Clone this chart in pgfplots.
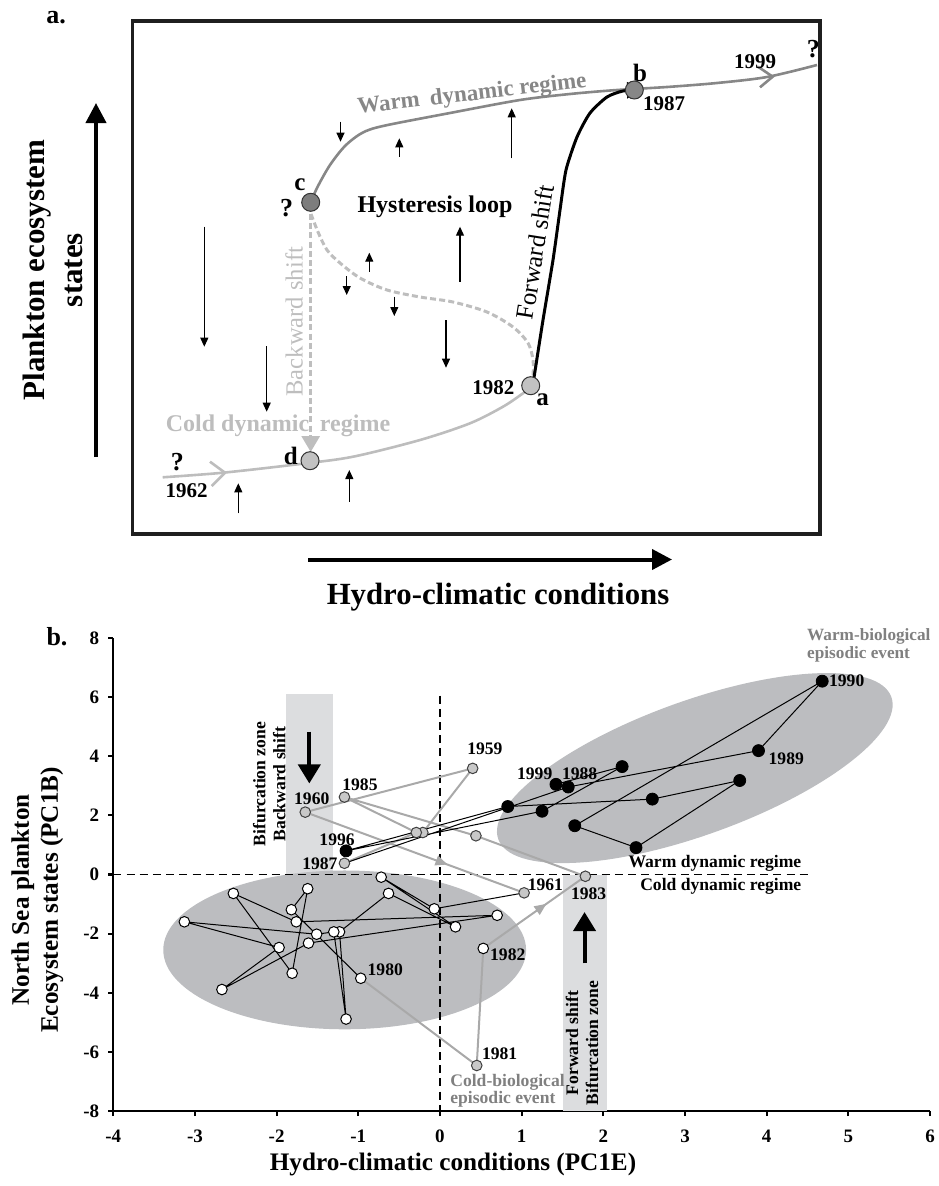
\documentclass[border=0pt]{standalone}
\usepackage{fontspec}
\setmainfont{Liberation Serif}
\usepackage{pgfplots}
\pgfplotsset{compat=1.18}
\usetikzlibrary{arrows.meta,decorations.markings}

\definecolor{warmc}{HTML}{878787}
\definecolor{coldc}{HTML}{BDBDBD}
\definecolor{dashc}{HTML}{BEBEBE}
\definecolor{cdot}{HTML}{7D7D7D}
\definecolor{adot}{HTML}{C2C2C2}
\definecolor{ell}{HTML}{BCBDC0}
\definecolor{zone}{HTML}{DCDDDF}
\definecolor{gline}{HTML}{A9A9A9}
\definecolor{gmark}{HTML}{C8C8C8}
\definecolor{labgray}{HTML}{808080}

\newcommand\fs[1]{\fontsize{#1}{#1}\selectfont}
\tikzset{
  sarr/.style={line width=0.55pt, -{Triangle[length=4.5pt,width=4pt]}},
  yr/.style={font=\bfseries\fs{8.8}},
}

\begin{document}
\begin{tikzpicture}
\useasboundingbox (0,0) rectangle (469pt,-593pt);

% ---------------- panel a (coordinates in reference pixels) ----------------
\begin{axis}[
  at={(66.25pt,-10.5pt)}, anchor=north west,
  scale only axis, width=343.75pt, height=256.5pt,
  xmin=132.5, xmax=820, ymin=21, ymax=534, y dir=reverse,
  ticks=none, clip=false,
  axis line style={line width=1.65pt, black!88},
]
% warm dynamic regime
\addplot[warmc, line width=1.3pt, smooth, tension=0.5] coordinates {
  (310.7,202) (318,186) (330,165) (345,146) (362,133) (383,126)
  (450,113) (520,100) (570,94) (617,90) (667,87) (717,83) (767,77) (817,65)};
\draw[warmc, line width=1.3pt] (axis cs:758,66.7) -- (axis cs:772.7,76.7) -- (axis cs:760,87.3);
% cold dynamic regime
\addplot[coldc, line width=1.3pt, smooth] coordinates {
  (162.7,477.3) (223,472.7) (300,464) (353,456.7) (420,440) (470,423.3)
  (503,406.7) (523,393.3) (532.7,386)};
\draw[coldc, line width=1.3pt] (axis cs:210,461.7) -- (axis cs:225,472.7) -- (axis cs:211.7,486);
% hysteresis dashed branch
\addplot[dashc, line width=1.5pt, dash pattern=on 3pt off 1.6pt, smooth] coordinates {
  (311,214) (318,232) (327,250) (340,263) (360,278) (387,290) (420,297)
  (453,302) (487,312) (513,327) (528,343) (533,360) (533,377)};
\addplot[dashc, line width=1.5pt, dash pattern=on 3pt off 1.6pt,
  -{Triangle[length=8pt,width=9pt]}] coordinates {(310.7,214) (310.7,452)};
% state points
\addplot[only marks, mark=*, mark size=4.5pt,
  mark options={fill=adot, draw=black!80, line width=0.5pt}]
  coordinates {(530.7,385.7) (310,460.7)};
\addplot[only marks, mark=*, mark size=4.5pt,
  mark options={fill=cdot, draw=black!80, line width=0.5pt}]
  coordinates {(310.7,202.3)};
\addplot[only marks, mark=*, mark size=4.5pt,
  mark options={fill=warmc, draw=black!80, line width=0.5pt}]
  coordinates {(634.3,90)};
% forward shift
\addplot[black, line width=1.5pt, smooth, tension=0.4,
  -{Triangle[length=7pt,width=8pt]}] coordinates {
  (532.7,386) (543,320) (553,260) (560,210) (566,170) (577,137)
  (590,113) (607,97) (623,91) (641,90)};
% small arrows
\draw[sarr] (axis cs:340.5,121.7) -- (axis cs:340.5,141.7);
\draw[sarr] (axis cs:399.3,156.7) -- (axis cs:399.3,138.3);
\draw[sarr] (axis cs:511.7,158.3) -- (axis cs:511.7,108.3);
\draw[sarr] (axis cs:204.3,226.7) -- (axis cs:204.3,346.7);
\draw[sarr] (axis cs:369.3,271.7) -- (axis cs:369.3,252.7);
\draw[sarr] (axis cs:460,281.7) -- (axis cs:460,226.7);
\draw[sarr] (axis cs:346.7,276) -- (axis cs:346.7,295);
\draw[sarr] (axis cs:394.3,296.7) -- (axis cs:394.3,316);
\draw[sarr] (axis cs:446,320) -- (axis cs:446,367.7);
\draw[sarr] (axis cs:266.7,346) -- (axis cs:266.7,411.7);
\draw[sarr] (axis cs:238.3,513.3) -- (axis cs:238.3,483.3);
\draw[sarr] (axis cs:349.3,501.7) -- (axis cs:349.3,470);
% labels
\node[font=\bfseries\fs{12.5}] at (axis cs:300,185) {c};
\node[font=\bfseries\fs{13}] at (axis cs:286.7,208.3) {?};
\node[font=\bfseries\fs{12}] at (axis cs:435,206.7) {Hysteresis loop};
\node[font=\bfseries\fs{11.5}, text=warmc, rotate=6.7] at (axis cs:472,95) {Warm\hspace{0.45em}dynamic regime};
\node[font=\bfseries\fs{12.5}] at (axis cs:640,73.3) {b};
\node[font=\bfseries\fs{10.5}] at (axis cs:664,104) {1987};
\node[font=\bfseries\fs{10.5}] at (axis cs:755,61.7) {1999};
\node[font=\bfseries\fs{13}] at (axis cs:813.3,49.3) {?};
\node[font=\fs{12.5}, rotate=81, inner sep=0pt] at (axis cs:535,252) {Forward shift};
\node[font=\fs{12.3}, text=dashc, rotate=90] at (axis cs:294,321.7) {Backward shift};
\node[font=\bfseries\fs{10.5}] at (axis cs:493.3,387.3) {1982};
\node[font=\bfseries\fs{12.5}] at (axis cs:542.7,399.3) {a};
\node[font=\bfseries\fs{12.5}] at (axis cs:290.7,456) {d};
\node[font=\bfseries\fs{13}] at (axis cs:177.3,461.7) {?};
\node[font=\bfseries\fs{10.5}] at (axis cs:186.7,490.7) {1962};
\node[font=\bfseries\fs{12}, text=coldc] at (axis cs:278,426) {Cold dynamic\hspace{0.45em}regime};
% outer arrows
\draw[line width=2pt, -{Triangle[length=10pt,width=10pt]}] (axis cs:96,457) -- (axis cs:96,103);
\draw[line width=2pt, -{Triangle[length=10pt,width=10pt]}] (axis cs:308,559.5) -- (axis cs:672,559.5);
\end{axis}
% panel a titles (canvas coordinates, 1 px = 0.5 pt)
\node[font=\bfseries\fontsize{15.5}{19}\selectfont, rotate=90, align=center] at (26.5pt,-135pt)
  {Plankton ecosystem\\states};
\node[font=\bfseries\fs{15.4}, anchor=base] at (249pt,-302pt) {Hydro-climatic conditions};
\node[font=\bfseries\fs{13}] at (28pt,-9pt) {a.};

% ---------------- panel b ----------------
\begin{axis}[
  at={(56.65pt,-555.5pt)}, anchor=south west,
  scale only axis, width=408.35pt, height=236.5pt,
  xmin=-4, xmax=6, ymin=-8, ymax=8,
  axis lines=left, axis line style={-, line width=1.1pt},
  xtick={-4,...,6}, ytick={-8,-6,...,8},
  xticklabels={-4,-3,-2,-1,0,1,2,3,4,5,6},
  yticklabels={-8,-6,-4,-2,0,2,4,6,8},
  tick align=outside, major tick length=2.5pt,
  tick style={line width=1.1pt, black},
  ticklabel style={font=\bfseries\fs{9.5}},
  xticklabel style={yshift=-3.5pt},
  yticklabel style={xshift=-1pt},
  clip=false,
]
% bifurcation zones
\fill[zone] (axis cs:-1.886,0) rectangle (axis cs:-1.31,6.10);
\fill[zone] (axis cs:1.51,-8) rectangle (axis cs:2.04,0);
% regime ellipses
\fill[ell] (axis cs:-1.167,-2.55) ellipse [x radius=90.7pt, y radius=39.7pt];
\fill[ell, rotate around={19.9:(axis cs:3.12,3.60)}] (axis cs:3.12,3.60) ellipse [x radius=104.5pt, y radius=33.5pt];
% zero lines
\draw[black, line width=0.8pt, dash pattern=on 4pt off 2.6pt] (axis cs:-4,0) -- (axis cs:4.51,0);
\draw[black, line width=0.8pt, dash pattern=on 4pt off 2.6pt] (axis cs:0,6.05) -- (axis cs:0,-8);
% shift arrows
\draw[line width=2pt, -{Triangle[length=9.5pt,width=11pt]}] (axis cs:-1.60,4.83) -- (axis cs:-1.60,3.08);
\draw[line width=2pt, -{Triangle[length=9.5pt,width=11pt]}] (axis cs:1.77,-3.01) -- (axis cs:1.77,-1.27);

% trajectory: grey transitional years
\addplot[gline, line width=1pt] coordinates {(-0.21,1.42) (0.40,3.59) (-1.65,2.11)};
\addplot[gline, line width=1pt, postaction={decorate},
  decoration={markings, mark=at position 0.65 with {\arrow{Triangle[length=6pt,width=5pt]}}}]
  coordinates {(-1.65,2.11) (1.03,-0.62)};
\addplot[gline, line width=1pt] coordinates {(-0.97,-3.51) (0.45,-6.46) (0.53,-2.50)};
\addplot[gline, line width=1pt, postaction={decorate},
  decoration={markings, mark=at position 0.62 with {\arrow{Triangle[length=6pt,width=5pt]}}}]
  coordinates {(0.53,-2.50) (1.78,-0.06)};
\addplot[gline, line width=1pt] coordinates {(1.78,-0.06) (0.44,1.31) (-1.17,2.62) (-0.29,1.42) (-1.17,0.38)};
% cold regime years 1962-1980
\addplot[black, line width=0.5pt] coordinates {
  (1.03,-0.62) (-0.07,-1.16) (-0.72,-0.09) (0.19,-1.77) (-0.63,-0.64) (-1.23,-1.94)
  (-1.15,-4.89) (-1.30,-1.94) (-1.51,-2.02) (-3.13,-1.60) (-1.97,-2.47) (-2.67,-3.89)
  (-1.61,-2.32) (0.70,-1.38) (-1.76,-1.60) (-2.53,-0.64) (-1.81,-3.34) (-1.62,-0.48)
  (-1.82,-1.19) (-0.97,-3.51)};
% warm regime years 1988-1999
\addplot[black, line width=0.5pt] coordinates {
  (-1.17,0.38) (1.57,2.96) (3.90,4.19) (4.68,6.54) (1.65,1.65) (2.40,0.91) (3.67,3.18)
  (2.60,2.55) (0.83,2.30) (-1.15,0.80) (1.25,2.14) (2.23,3.65) (1.42,3.05)};
% markers
\addplot[only marks, mark=*, mark size=2.65pt,
  mark options={fill=white, draw=black, line width=0.5pt}] coordinates {
  (-0.07,-1.16) (-0.72,-0.09) (0.19,-1.77) (-0.63,-0.64) (-1.23,-1.94)
  (-1.15,-4.89) (-1.30,-1.94) (-1.51,-2.02) (-3.13,-1.60) (-1.97,-2.47) (-2.67,-3.89)
  (-1.61,-2.32) (0.70,-1.38) (-1.76,-1.60) (-2.53,-0.64) (-1.81,-3.34) (-1.62,-0.48)
  (-1.82,-1.19) (-0.97,-3.51) (0.53,-2.50)};
\addplot[only marks, mark=*, mark size=2.65pt,
  mark options={fill=gmark, draw=black!75, line width=0.5pt}] coordinates {
  (-0.21,1.42) (-0.29,1.42) (0.40,3.59) (-1.65,2.11) (1.03,-0.62) (0.45,-6.46)
  (1.78,-0.06) (0.44,1.31) (-1.17,2.62) (-1.17,0.38)};
\addplot[only marks, mark=*, mark size=3pt,
  mark options={fill=black, draw=black}] coordinates {
  (0.83,2.30) (1.25,2.14) (1.42,3.05) (1.57,2.96) (2.23,3.65) (3.67,3.18)
  (2.60,2.55) (1.65,1.65) (2.40,0.91) (3.90,4.19) (4.68,6.54) (-1.15,0.80)};

% year labels
\node[yr] at (axis cs:0.55,4.27) {1959};
\node[yr] at (axis cs:-1.57,2.55) {1960};
\node[yr] at (axis cs:-0.98,3.05) {1985};
\node[yr] at (axis cs:-1.26,1.19) {1996};
\node[yr] at (axis cs:-1.47,0.35) {1987};
\node[yr] at (axis cs:1.16,3.42) {1999};
\node[yr] at (axis cs:1.71,3.42) {1988};
\node[yr] at (axis cs:4.24,3.90) {1989};
\node[yr] at (axis cs:4.98,6.56) {1990};
\node[yr] at (axis cs:1.29,-0.36) {1961};
\node[yr] at (axis cs:1.82,-0.64) {1983};
\node[yr] at (axis cs:0.83,-2.72) {1982};
\node[yr] at (axis cs:0.73,-6.05) {1981};
\node[yr] at (axis cs:-0.67,-3.21) {1980};
% annotations
\node[yr, anchor=east] at (axis cs:4.51,0.39) {Warm dynamic regime};
\node[yr, anchor=east] at (axis cs:4.51,-0.39) {Cold dynamic regime};
\node[font=\bfseries\fontsize{8.6}{9}\selectfont, text=labgray, align=left, anchor=west]
  at (axis cs:4.41,7.76) {Warm-biological\\episodic event};
\node[font=\bfseries\fontsize{8.8}{8.5}\selectfont, text=labgray, align=left, anchor=west]
  at (axis cs:0.04,-7.32) {Cold-biological\\episodic event};
\node[font=\bfseries\fontsize{8.8}{10}\selectfont, rotate=90, align=center]
  at (axis cs:-2.09,3.06) {Bifurcation zone\\Backward shift};
\node[font=\bfseries\fontsize{8.8}{10}\selectfont, rotate=90, align=center]
  at (axis cs:1.74,-5.70) {Forward shift\\Bifurcation zone};
\end{axis}
% panel b titles (canvas coordinates, 1 px = 0.5 pt)
\node[font=\bfseries\fs{12.6}] at (226.5pt,-582pt) {Hydro-climatic conditions (PC1E)};
\node[font=\bfseries\fontsize{12.6}{14.5}\selectfont, rotate=90, align=center]
  at (18.7pt,-450pt) {North Sea plankton\\Ecosystem states (PC1B)};
\node[font=\bfseries\fs{13}] at (28.5pt,-318.5pt) {b.};
\end{tikzpicture}
\end{document}
